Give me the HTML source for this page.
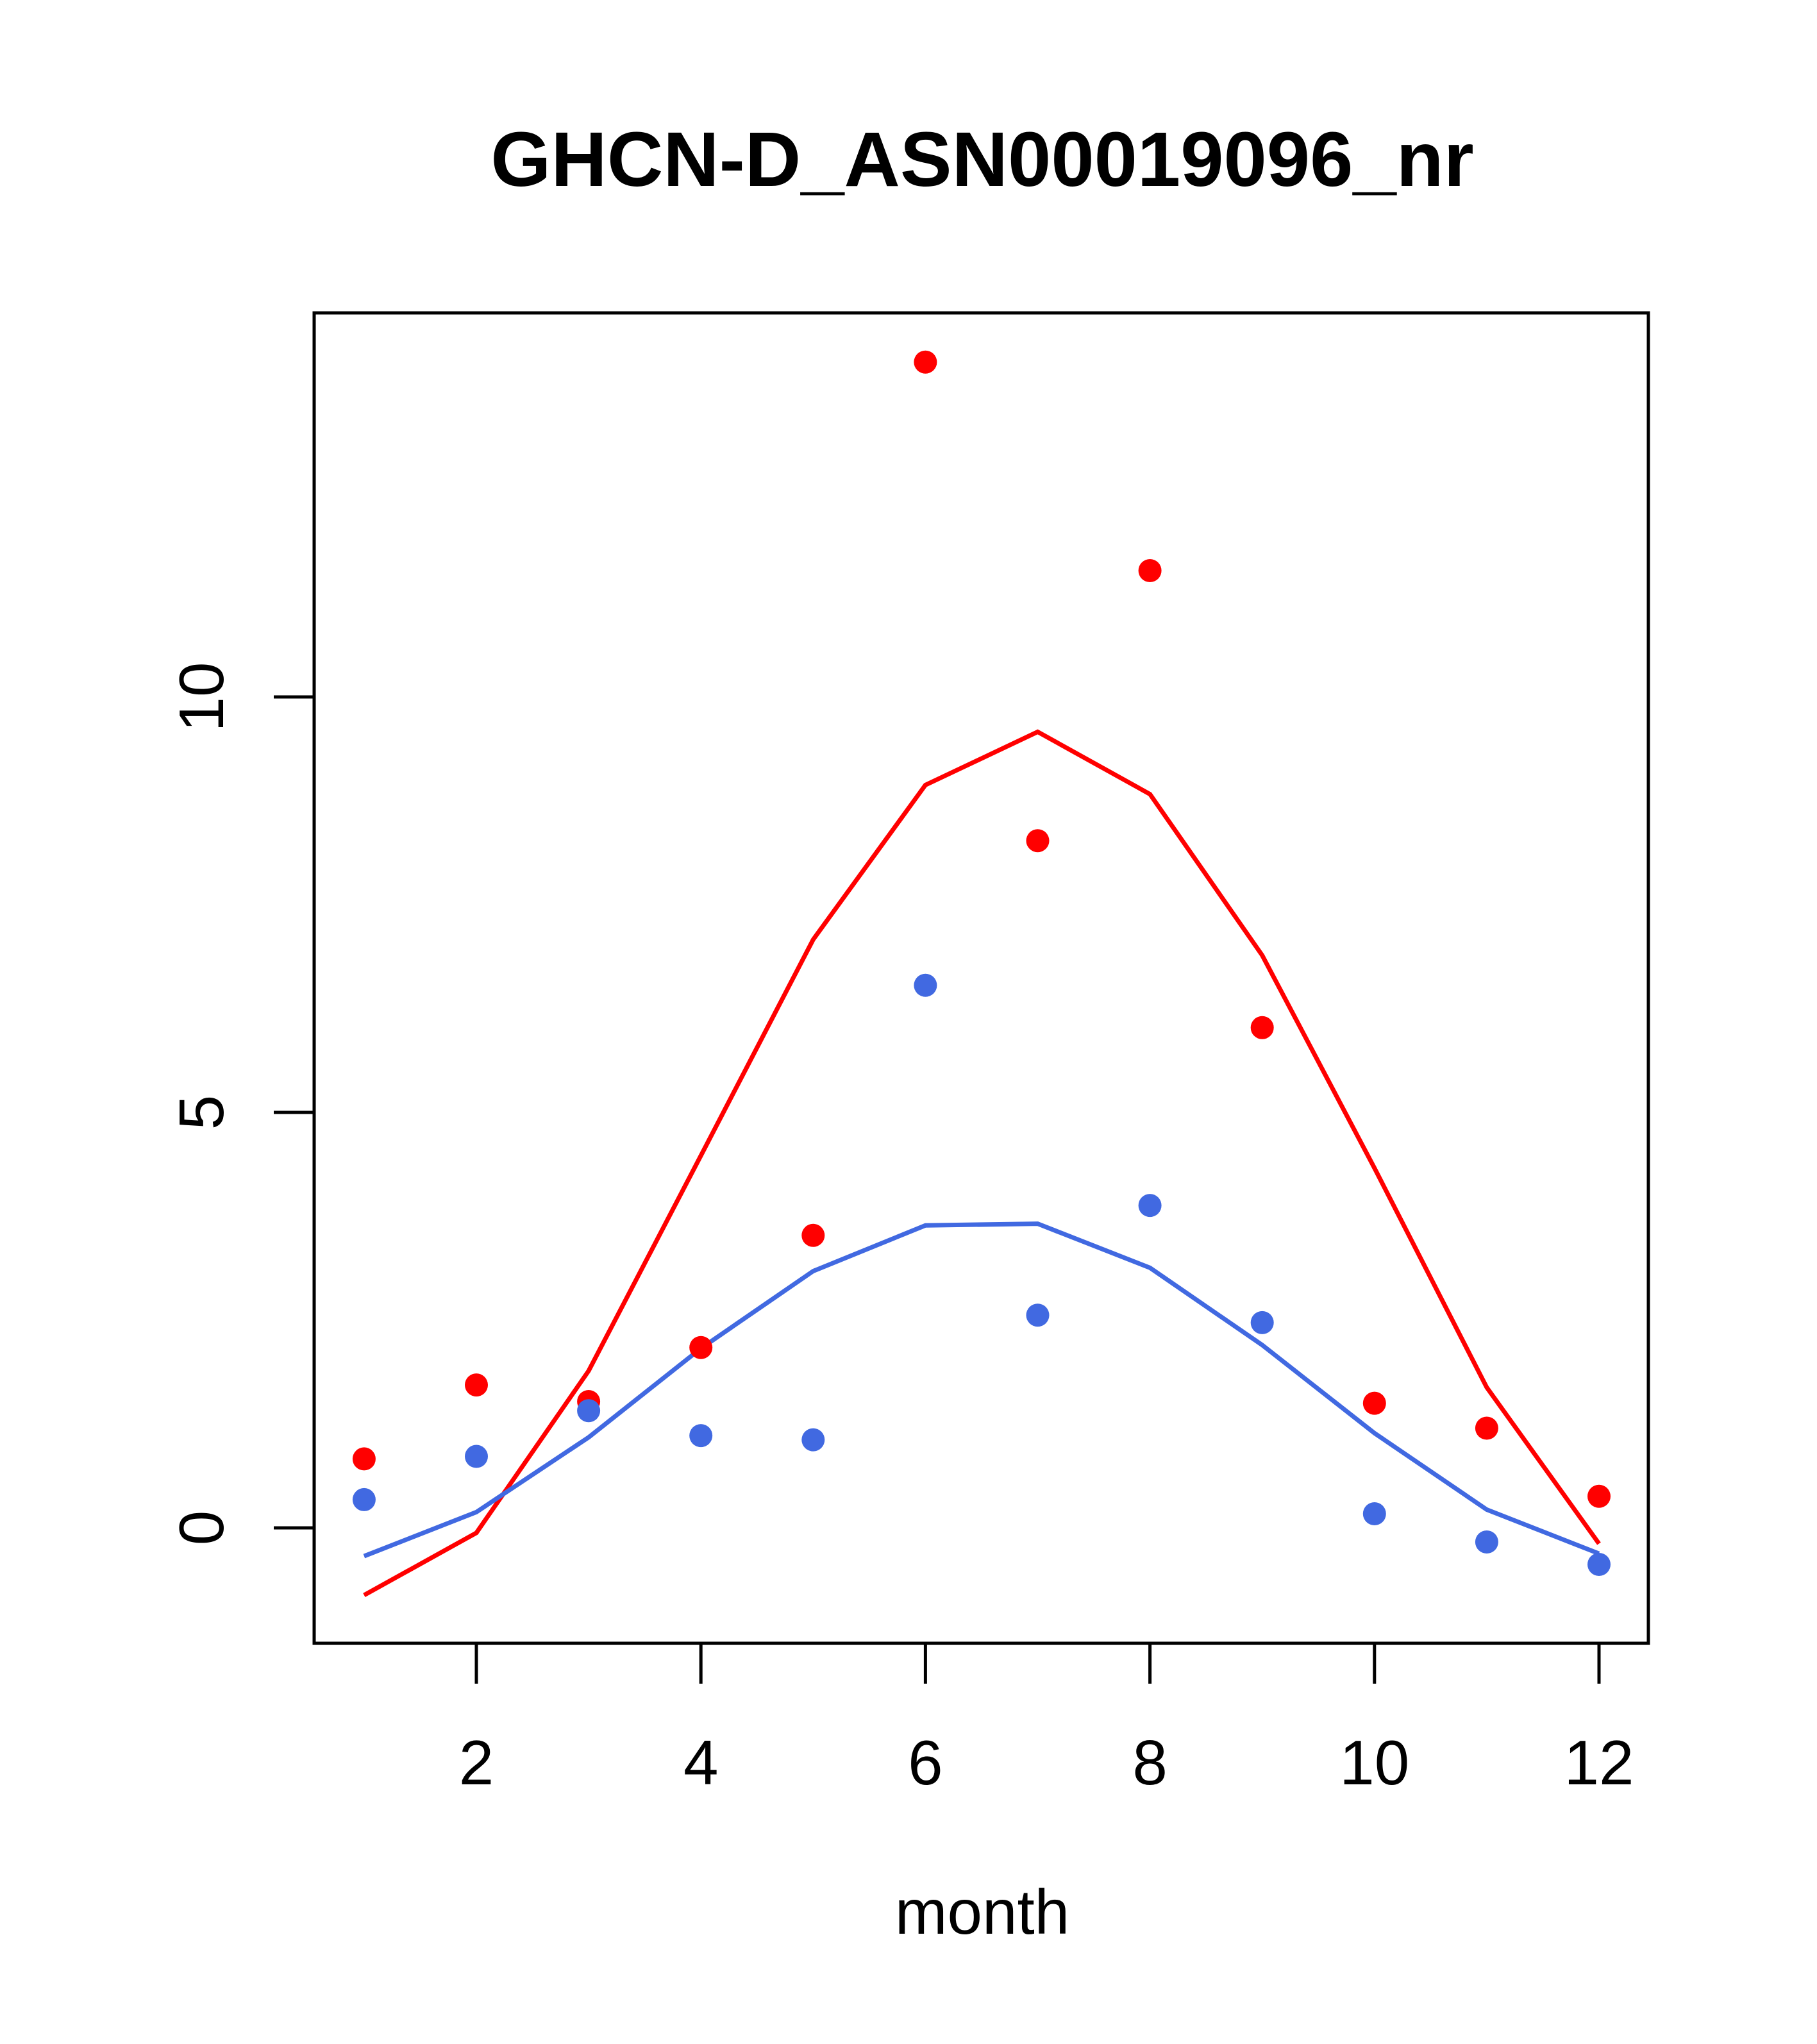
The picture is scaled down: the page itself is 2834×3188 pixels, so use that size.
<!DOCTYPE html>
<html><head><meta charset="utf-8"><style>
html,body{margin:0;padding:0;background:#fff;}
svg{display:block;font-family:"Liberation Sans",Arial,sans-serif;}
</style></head><body>
<svg id="chart" width="2834" height="3188" viewBox="0 0 2834 3188" xmlns="http://www.w3.org/2000/svg">
<rect width="2834" height="3188" fill="#fff"/>
<text x="1532" y="290" text-anchor="middle" font-size="121" font-weight="bold">GHCN-D_ASN00019096_nr</text>
<rect x="490" y="488" width="2081" height="2075" fill="none" stroke="#000" stroke-width="5"/>
<text x="1532" y="3016" text-anchor="middle" font-size="98">month</text>
<g id="axes"></g>
<g id="marks"></g>
</svg>
<script>
const months=[1,2,3,4,5,6,7,8,9,10,11,12];
const redPoints=[0.83,1.72,1.52,2.17,3.52,14.03,8.27,11.52,6.02,1.5,1.2,0.38];
const bluePoints=[0.34,0.86,1.41,1.11,1.06,6.53,2.56,3.88,2.47,0.17,-0.17,-0.44];
const redLine=[-0.81,-0.06,1.89,4.48,7.08,8.94,9.58,8.83,6.89,4.33,1.69,-0.19];
const blueLine=[-0.34,0.19,1.09,2.16,3.09,3.64,3.66,3.13,2.2,1.14,0.22,-0.31];
const xTicks=[2,4,6,8,10,12];
const yTicks=[0,5,10];

const NS="http://www.w3.org/2000/svg";
function X(m){return 743+(m-2)*175.1;}
function Y(v){return 2383-v*129.6;}
function mk(tag,attrs,parent){const e=document.createElementNS(NS,tag);for(const k in attrs)e.setAttribute(k,attrs[k]);parent.appendChild(e);return e;}
const axes=document.getElementById('axes'),marks=document.getElementById('marks');

mk('line',{x1:X(2),x2:X(12),y1:2563,y2:2563,stroke:'#000','stroke-width':5},axes);
xTicks.forEach(t=>{
  const l=mk('line',{x1:X(t),x2:X(t),y1:2563,y2:2626,stroke:'#000','stroke-width':5},axes);
  
  
  const tx=mk('text',{x:X(t),y:2783,'text-anchor':'middle','font-size':98},axes);
  tx.textContent=t;
  
  
});
mk('line',{x1:490,x2:490,y1:Y(0),y2:Y(10),stroke:'#000','stroke-width':5},axes);
yTicks.forEach(t=>{
  const l=mk('line',{x1:427,x2:490,y1:Y(t),y2:Y(t),stroke:'#000','stroke-width':5},axes);
  
  
  const tx=mk('text',{x:0,y:0,'text-anchor':'middle','font-size':98,transform:`translate(348,${Y(t)}) rotate(-90)`},axes);
  tx.textContent=t;
  
  
});

function line(vals,color,name){
  const p=mk('polyline',{points:vals.map((v,i)=>X(months[i])+','+Y(v)).join(' '),fill:'none',stroke:color,'stroke-width':7},marks);
  
  
}
function pts(vals,color,name){
  vals.forEach((v,i)=>{
    const c=mk('circle',{cx:X(months[i]),cy:Y(v),r:18,fill:color},marks);
    
    
  });
}
line(redLine,'#ff0000','red-line');
line(blueLine,'#4169e1','blue-line');
pts(redPoints,'#ff0000','red-point');
pts(bluePoints,'#4169e1','blue-point');
</script>
</body></html>
